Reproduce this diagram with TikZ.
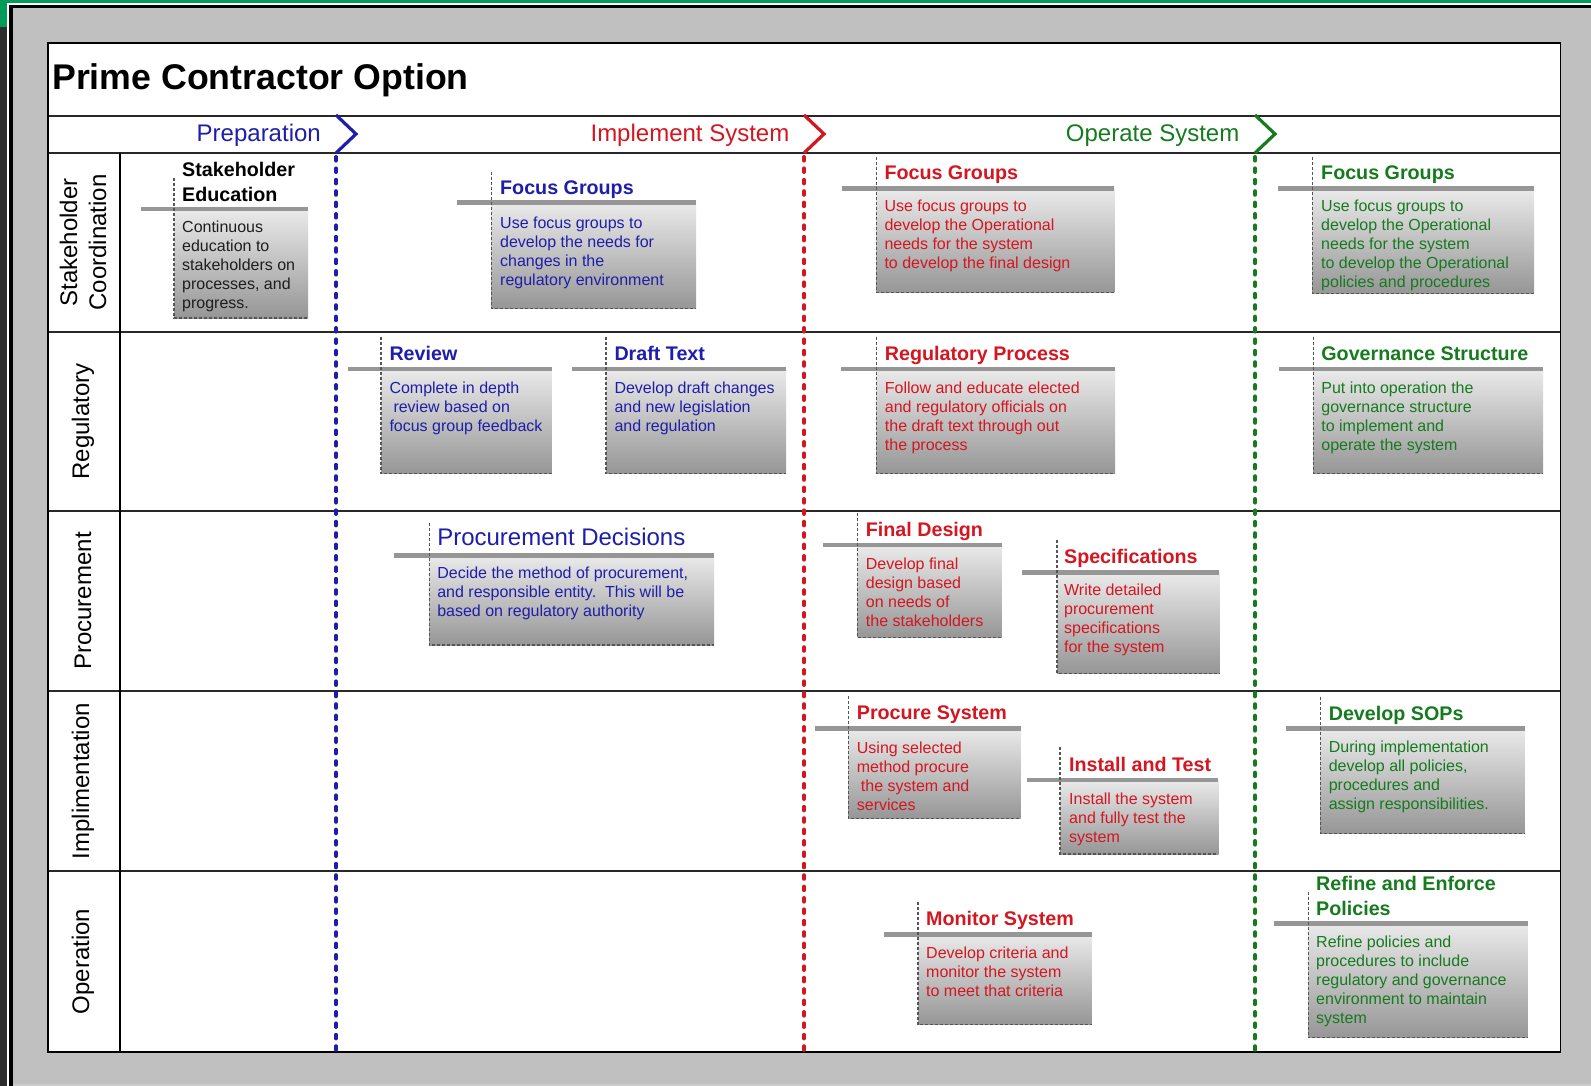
\documentclass[tikz,border=0pt]{standalone}
\usepackage{fontspec}
\setmainfont{Liberation Sans}
\definecolor{bgc}{RGB}{192,192,192}
\definecolor{bluec}{RGB}{30,30,170}
\definecolor{redc}{RGB}{212,22,32}
\definecolor{greenc}{RGB}{22,122,30}
\definecolor{boxtop}{RGB}{234,234,234}
\definecolor{boxbot}{RGB}{150,150,150}
\definecolor{barc}{RGB}{150,150,150}
\definecolor{dashc}{RGB}{85,85,85}
\definecolor{gridc}{RGB}{40,40,40}
\definecolor{topgreen}{RGB}{0,155,90}
\definecolor{bodyk}{RGB}{30,30,30}
\definecolor{darkstrip}{RGB}{45,45,45}
\tikzset{
 ttl/.style={font=\bfseries\fontsize{19.7}{24.5}\selectfont, inner sep=0, anchor=base west},
 bdy/.style={font=\fontsize{16}{19}\selectfont, inner sep=0, anchor=base west},
 hdr/.style={font=\fontsize{24}{29}\selectfont, inner sep=0, anchor=base east},
 lanelbl/.style={font=\fontsize{24}{29}\selectfont, inner sep=0, rotate=90, align=center},
 dline/.style={draw=dashc, line width=1.1pt, dash pattern=on 3pt off 2pt},
 phase/.style={line width=4pt, dash pattern=on 3.6pt off 7.8pt, line cap=round},
 chev/.style={line width=3.2pt, line join=miter},
 gridline/.style={draw=gridc, line width=2pt},
}
\newcommand{\bx}[6]{%
  \shade[top color=boxtop, bottom color=boxbot] (#1,#3) rectangle (#5,#6);
  \fill[barc] (#4,#3-2.4) rectangle (#5,#3+2.4);
  \draw[dline] (#1,#2) -- (#1,#6) -- (#5,#6);
}
\newcommand{\mlines}[1]{\begin{tabular}[t]{@{}l@{}}#1\end{tabular}}
\begin{document}
\begin{tikzpicture}[x=1pt,y=-1pt]
\useasboundingbox (0,0) rectangle (1591,1086);
% outer frame
\fill[bgc] (0,0) rectangle (1591,1086);
\fill[darkstrip] (0,0) rectangle (7,1086);
\fill[white] (7,3) rectangle (8.5,1086);
\fill[black] (8.5,5) rectangle (13,1086);
\fill[topgreen] (0,0) rectangle (1591,3);
\fill[topgreen] (0,0) rectangle (7,27);
\fill[white] (7,3) rectangle (1591,5);
\fill[black] (8.5,5) rectangle (1591,8);
\fill[gray!40] (13,1084) rectangle (1591,1086);
% main panel
\fill[white] (48,43) rectangle (1560.5,1052);
\draw[gridline] (48,116) -- (1560.5,116);
\draw[gridline] (48,153) -- (1560.5,153);
\foreach \yy in {332,511,691,871} \draw[gridline] (48,\yy) -- (1560.5,\yy);
\draw[black, line width=1.4pt] (120,153) -- (120,1052);
\draw[black, line width=1.6pt] (48,43) rectangle (1560.5,1052);
% title
\node[font=\bfseries\fontsize{35.7}{40}\selectfont, inner sep=0, anchor=base west] (title) at (52,90) {Prime Contractor Option};
% phase headers
\node[hdr, text=bluec] (hprep) at (321,141.5) {Preparation};
\node[hdr, text=redc] (himpl) at (789.5,141.5) {Implement System};
\node[hdr, text=greenc] (hoper) at (1239.5,141.5) {Operate System};
\draw[chev, bluec] (336,115) -- (356,134) -- (336,153);
\draw[chev, redc] (804,115) -- (824,134) -- (804,153);
\draw[chev, greenc] (1255,115) -- (1275,134) -- (1255,153);
\coordinate (pb1) at (336,157); \coordinate (pb2) at (336,1050);
\coordinate (pr1) at (804,157); \coordinate (pr2) at (804,1050);
\coordinate (pg1) at (1255,157); \coordinate (pg2) at (1255,1050);
% lane labels
\node[lanelbl] (l1) at (83,242.5) {Stakeholder\\Coordination};
\node[lanelbl] (l2) at (83,421.5) {Regulatory};
\node[lanelbl] (l3) at (83,601) {Procurement};
\node[lanelbl] (l4) at (83,781) {Implimentation};
\node[lanelbl] (l5) at (83,961.5) {Operation};
% boxes
% 1 Stakeholder Education
\bx{174}{178}{209}{141}{308}{318}
\node[ttl] (se-t1) at (182,177) {Stakeholder};
\node[ttl] (se-t2) at (182,202) {Education};
\node[bdy, text=bodyk] (se-b) at (182,233) {\mlines{Continuous\\education to\\stakeholders on\\processes, and\\progress.}};
% 2 Focus Groups blue
\bx{491.7}{171.7}{202.7}{457.3}{696}{308.3}
\node[ttl, text=bluec] (fb-t) at (500,195) {Focus Groups};
\node[bdy, text=bluec] (fb-b) at (500,228.3) {\mlines{Use focus groups to\\develop the needs for\\changes in the\\regulatory environment}};
% 3 Focus Groups red
\bx{876.7}{156.7}{188.7}{841.7}{1114.3}{292.7}
\node[ttl, text=redc] (fr-t) at (884.3,180) {Focus Groups};
\node[bdy, text=redc] (fr-b) at (884.3,211.7) {\mlines{Use focus groups to\\develop the Operational\\needs for the system\\to develop the final design}};
% 4 Focus Groups green
\bx{1312.7}{156.7}{188.7}{1278.3}{1534}{293.3}
\node[ttl, text=greenc] (fg-t) at (1321,180) {Focus Groups};
\node[bdy, text=greenc] (fg-b) at (1321,211.7) {\mlines{Use focus groups to\\develop the Operational\\needs for the system\\to develop the Operational\\policies and procedures}};
% 5 Review
\bx{381}{336.7}{369}{348.3}{551.7}{473.3}
\node[ttl, text=bluec] (rv-t) at (389.3,360) {Review};
\node[bdy, text=bluec] (rv-b) at (389.3,393.3) {\mlines{Complete in depth\\\hspace*{4pt}review based on\\focus group feedback}};
% 6 Draft Text
\bx{606}{336.7}{369}{571.7}{786}{473.3}
\node[ttl, text=bluec] (dt-t) at (614.3,360) {Draft Text};
\node[bdy, text=bluec] (dt-b) at (614.3,393.3) {\mlines{Develop draft changes\\and new legislation\\and regulation}};
% 7 Regulatory Process
\bx{876.6}{336.7}{369}{841.2}{1115}{473.3}
\node[ttl, text=redc] (rp-t) at (884.7,360) {Regulatory Process};
\node[bdy, text=redc] (rp-b) at (884.7,393.3) {\mlines{Follow and educate elected\\and regulatory officials on\\the draft text through out\\the process}};
% 8 Governance Structure
\bx{1313.2}{336.7}{369}{1278.7}{1543}{473.3}
\node[ttl, text=greenc] (gs-t) at (1321.2,360) {Governance Structure};
\node[bdy, text=greenc] (gs-b) at (1321.2,393.3) {\mlines{Put into operation the\\governance structure\\to implement and\\operate the system}};
% 9 Procurement Decisions
\bx{429.1}{523.3}{555.7}{394.3}{714.1}{645}
\node[font=\fontsize{24}{29}\selectfont, inner sep=0, anchor=base west, text=bluec] (pd-t) at (437.1,545) {Procurement Decisions};
\node[bdy, text=bluec] (pd-b) at (437.1,578.3) {\mlines{Decide the method of procurement,\\and responsible entity.\ \ This will be\\based on regulatory authority}};
% 10 Final Design
\bx{857.7}{513}{545}{822.9}{1001.8}{637.7}
\node[ttl, text=redc] (fd-t) at (865.7,536.7) {Final Design};
\node[bdy, text=redc] (fd-b) at (865.7,569.3) {\mlines{Develop final\\design based\\on needs of\\the stakeholders}};
% 11 Specifications
\bx{1057}{540}{572.3}{1022.1}{1219.3}{673.3}
\node[ttl, text=redc] (sp-t) at (1063.9,563.3) {Specifications};
\node[bdy, text=redc] (sp-b) at (1063.9,595.7) {\mlines{Write detailed\\procurement\\specifications\\for the system}};
% 12 Procure System
\bx{848.3}{696}{728.3}{815}{1020.7}{818.3}
\node[ttl, text=redc] (ps-t) at (856.7,719.3) {Procure System};
\node[bdy, text=redc] (ps-b) at (856.7,753.3) {\mlines{Using selected\\method procure\\\hspace*{4pt}the system and\\services}};
% 13 Install and Test
\bx{1060}{747.3}{780}{1026.7}{1218.3}{854}
\node[ttl, text=redc] (it-t) at (1069,771) {Install and Test};
\node[bdy, text=redc] (it-b) at (1069,804.3) {\mlines{Install the system\\and fully test the\\system}};
% 14 Develop SOPs
\bx{1320.7}{696.7}{728.3}{1286}{1524.5}{833.3}
\node[ttl, text=greenc] (ds-t) at (1328.6,720) {Develop SOPs};
\node[bdy, text=greenc] (ds-b) at (1328.6,752.7) {\mlines{During implementation\\develop all policies,\\procedures and\\assign responsibilities.}};
% 15 Monitor System
\bx{918}{901.7}{934.3}{884.2}{1091.9}{1024.3}
\node[ttl, text=redc] (ms-t) at (926,925) {Monitor System};
\node[bdy, text=redc] (ms-b) at (926,958.3) {\mlines{Develop criteria and\\monitor the system\\to meet that criteria}};
% 16 Refine and Enforce Policies
\bx{1308.3}{891.7}{923.3}{1274}{1527.7}{1037.7}
\node[ttl, text=greenc] (re-t1) at (1316,890.7) {Refine and Enforce};
\node[ttl, text=greenc] (re-t2) at (1316,915) {Policies};
\node[bdy, text=greenc] (re-b) at (1316,947.3) {\mlines{Refine policies and\\procedures to include\\regulatory and governance\\environment to maintain\\system}};
% phase dividers
\draw[phase, draw=bluec] (pb1) -- (pb2);
\draw[phase, draw=redc] (pr1) -- (pr2);
\draw[phase, draw=greenc] (pg1) -- (pg2);
\end{tikzpicture}
\end{document}
